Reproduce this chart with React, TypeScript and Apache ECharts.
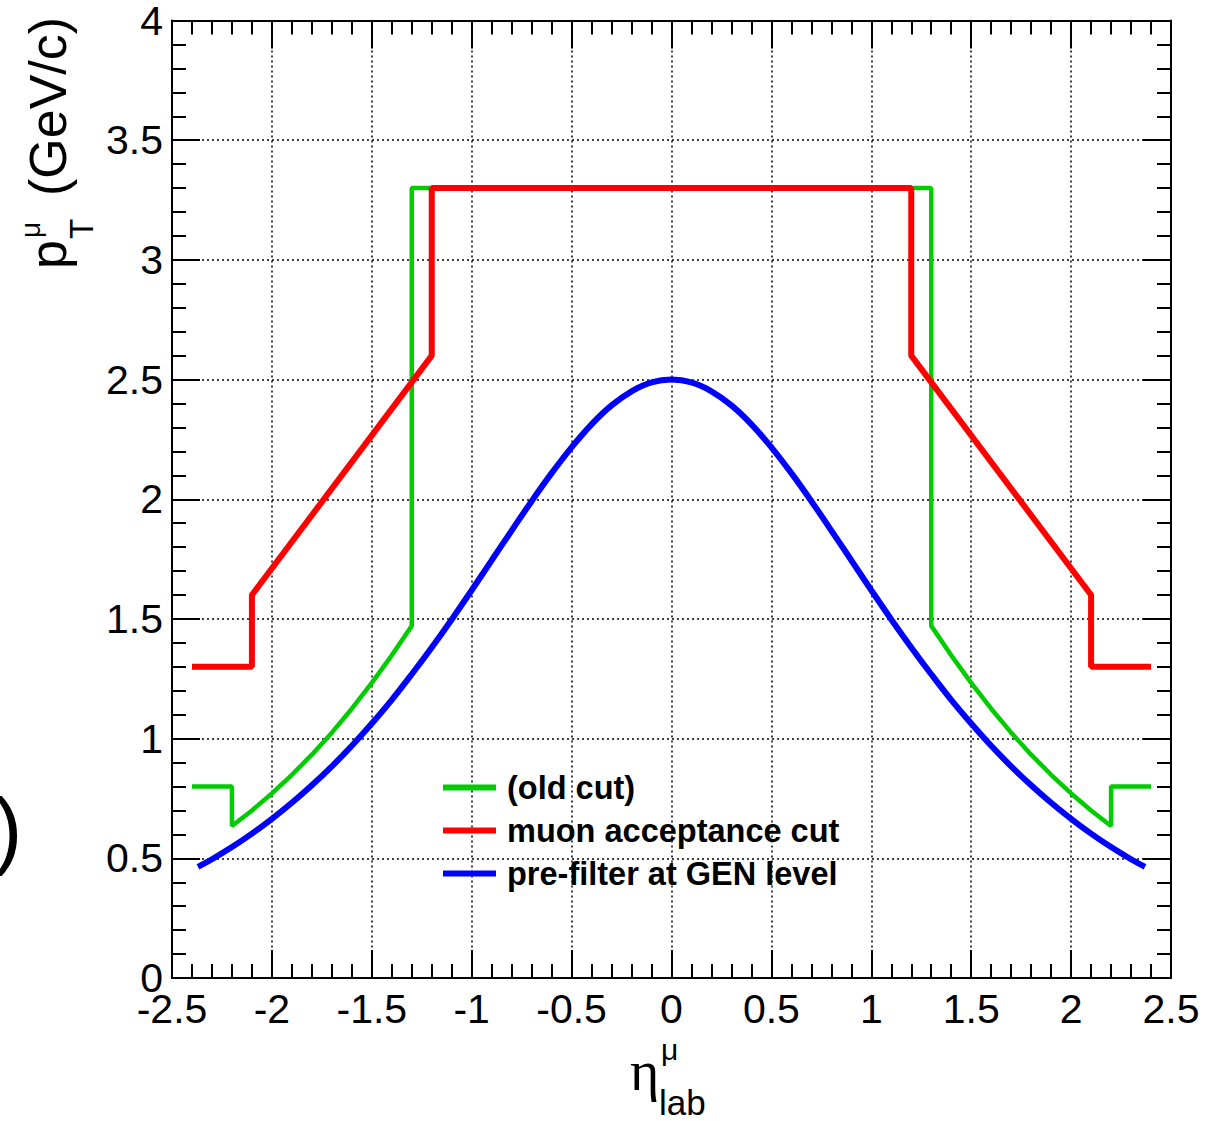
import React, { useEffect, useRef } from "react";
import * as echarts from "echarts";

// ---- data ----
const seriesNames = ["(old cut)", "muon acceptance cut", "pre-filter at GEN level"];
const seriesColors = ["#00cc00", "#ff0000", "#0000ff"];

const greenEta = [-2.4, -2.2, -2.2, -2.1, -2.0, -1.9, -1.8, -1.7, -1.6, -1.5, -1.4, -1.3, -1.3, 1.3, 1.3, 1.4, 1.5, 1.6, 1.7, 1.8, 1.9, 2.0, 2.1, 2.2, 2.2, 2.4];
const greenPt = [0.8, 0.8, 0.635, 0.70, 0.771, 0.849, 0.933, 1.025, 1.125, 1.233, 1.348, 1.471, 3.3, 3.3, 1.471, 1.348, 1.233, 1.125, 1.025, 0.933, 0.849, 0.771, 0.70, 0.635, 0.8, 0.8];

const redEta = [-2.4, -2.1, -2.1, -1.2, -1.2, 1.2, 1.2, 2.1, 2.1, 2.4];
const redPt = [1.3, 1.3, 1.6, 2.6, 3.3, 3.3, 2.6, 1.6, 1.3, 1.3];

const blueEta = [-2.37, -2.3, -2.2, -2.1, -2.0, -1.9, -1.8, -1.7, -1.6, -1.5, -1.4, -1.3, -1.2, -1.1, -1.0, -0.9, -0.8, -0.7, -0.6, -0.5, -0.4, -0.3, -0.2, -0.1, 0.0, 0.1, 0.2, 0.3, 0.4, 0.5, 0.6, 0.7, 0.8, 0.9, 1.0, 1.1, 1.2, 1.3, 1.4, 1.5, 1.6, 1.7, 1.8, 1.9, 2.0, 2.1, 2.2, 2.3, 2.37];
const bluePt = [0.464, 0.496, 0.547, 0.603, 0.665, 0.732, 0.805, 0.884, 0.970, 1.063, 1.162, 1.269, 1.381, 1.498, 1.620, 1.745, 1.869, 1.992, 2.109, 2.217, 2.313, 2.392, 2.451, 2.488, 2.500, 2.488, 2.451, 2.392, 2.313, 2.217, 2.109, 1.992, 1.869, 1.745, 1.620, 1.498, 1.381, 1.269, 1.162, 1.063, 0.970, 0.884, 0.805, 0.732, 0.665, 0.603, 0.547, 0.496, 0.464];

const xMin = -2.5, xMax = 2.5, xStep = 0.5;
const yMin = 0, yMax = 4, yStep = 0.5;

const zip = (a: number[], b: number[]) => a.map((v, i) => [v, b[i]]);

const SANS = "Liberation Sans";

export default function App() {
  const ref = useRef<HTMLDivElement>(null);
  useEffect(() => {
    if (!ref.current) return;
    const chart = echarts.init(ref.current, undefined, { renderer: "svg" });
    const axisLine = { show: true, onZero: false, lineStyle: { color: "#000", width: 2 } };
    const axisTick = { show: true, inside: true, length: 28, lineStyle: { color: "#000", width: 2 } };
    const minorTick = { show: true, splitNumber: 5, length: 14, lineStyle: { color: "#000", width: 2 } };
    const splitLine = { show: true, lineStyle: { color: "#000", width: 1.5, type: [2, 3] } };
    const labelStyle = { fontFamily: SANS, fontSize: 41, color: "#000" };

    const option: any = {
      animation: false,
      backgroundColor: "#fff",
      grid: { left: 172, top: 20, width: 999, height: 958, containLabel: false },
      xAxis: [
        {
          type: "value", min: xMin, max: xMax, interval: xStep, position: "bottom",
          axisLine, axisTick, minorTick, splitLine,
          axisLabel: { ...labelStyle, margin: 10, showMinLabel: true, showMaxLabel: true },
        },
        {
          type: "value", min: xMin, max: xMax, interval: xStep, position: "top",
          axisLine, axisTick, minorTick, splitLine: { show: false }, axisLabel: { show: false },
        },
      ],
      yAxis: [
        {
          type: "value", min: yMin, max: yMax, interval: yStep, position: "left",
          axisLine, axisTick, minorTick, splitLine,
          axisLabel: { ...labelStyle, margin: 9, showMinLabel: true, showMaxLabel: true },
        },
        {
          type: "value", min: yMin, max: yMax, interval: yStep, position: "right",
          axisLine, axisTick, minorTick, splitLine: { show: false }, axisLabel: { show: false },
        },
      ],
      legend: {
        orient: "vertical",
        left: 443,
        top: 766,
        padding: 0,
        itemGap: 0,
        icon: "rect",
        itemWidth: 53,
        itemHeight: 6,
        data: seriesNames,
        textStyle: { fontFamily: SANS, fontSize: 32.5, fontWeight: "bold", color: "#000", lineHeight: 43, padding: [0, 0, 0, 6] },
      },
      series: [
        { name: seriesNames[0], type: "line", data: zip(greenEta, greenPt), showSymbol: false, symbol: "none", color: seriesColors[0], lineStyle: { width: 4.5, color: seriesColors[0] } },
        { name: seriesNames[1], type: "line", data: zip(redEta, redPt), showSymbol: false, symbol: "none", color: seriesColors[1], lineStyle: { width: 6, color: seriesColors[1] } },
        { name: seriesNames[2], type: "line", data: zip(blueEta, bluePt), showSymbol: false, symbol: "none", smooth: 0.4, color: seriesColors[2], lineStyle: { width: 6, color: seriesColors[2] } },
      ],
      graphic: [
        // y-axis title: p_T^mu (GeV/c), rotated
        {
          type: "group", x: 66, y: 269, rotation: Math.PI / 2,
          children: [
            { type: "text", x: 0, y: -0.3465 * 52, style: { text: "p", fontFamily: SANS, fontSize: 52, fill: "#000", textAlign: "left", textVerticalAlign: "middle" } },
            { type: "text", x: 30, y: 27 - 0.3465 * 33, style: { text: "T", fontFamily: SANS, fontSize: 33, fill: "#000", textAlign: "left", textVerticalAlign: "middle" } },
            { type: "text", x: 31, y: -26 - 0.3465 * 28, style: { text: "μ", fontFamily: SANS, fontSize: 28, fill: "#000", textAlign: "left", textVerticalAlign: "middle" } },
            { type: "text", x: 73, y: -0.3465 * 52, style: { text: "(GeV/c)", fontFamily: SANS, fontSize: 52, fill: "#000", textAlign: "left", textVerticalAlign: "middle" } },
          ],
        },
        // x-axis title: eta^mu_lab
        { type: "text", x: 630, y: 1090 - 0.3375 * 56, style: { text: "η", fontFamily: "Liberation Serif", fontSize: 56, fill: "#000", textAlign: "left", textVerticalAlign: "middle" } },
        { type: "text", x: 661, y: 1060 - 0.3465 * 30, style: { text: "μ", fontFamily: SANS, fontSize: 30, fill: "#000", textAlign: "left", textVerticalAlign: "middle" } },
        { type: "text", x: 659, y: 1115 - 0.3465 * 35, style: { text: "lab", fontFamily: SANS, fontSize: 35, fill: "#000", textAlign: "left", textVerticalAlign: "middle" } },
        // cropped parenthesis at the left edge
        { type: "text", x: -6, y: 858 - 0.3465 * 85, style: { text: ")", fontFamily: SANS, fontSize: 85, fill: "#000", textAlign: "left", textVerticalAlign: "middle" } },
      ],
    };
    chart.setOption(option);
    return () => chart.dispose();
  }, []);
  return <div ref={ref} style={{ position: "fixed", left: 0, top: 0, width: 1212, height: 1121, background: "#fff" }} />;
}
